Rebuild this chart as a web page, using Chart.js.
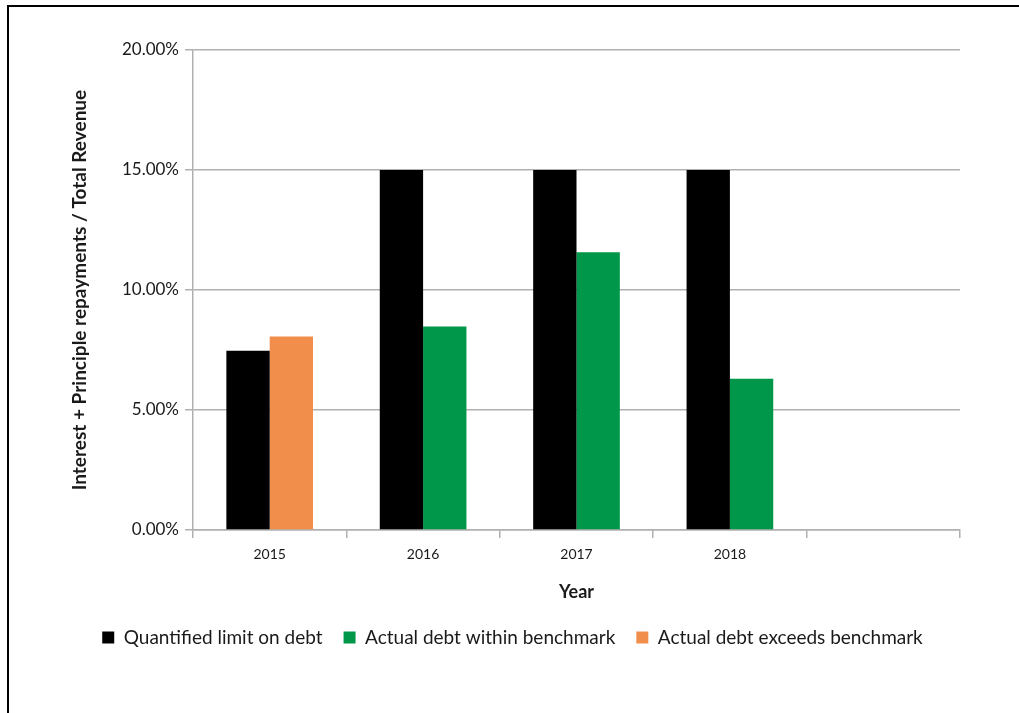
<!DOCTYPE html>
<html>
<head>
<meta charset="utf-8">
<script src="https://cdn.jsdelivr.net/npm/chart.js@4/dist/chart.umd.min.js"></script>
<style>
  html, body { margin: 0; padding: 0; background: #ffffff; }
  #frame {
    position: absolute; left: 7px; top: 5px; width: 1012px; height: 708px;
    border-left: 2px solid #000; border-top: 2px solid #000; box-sizing: border-box;
  }
  #wrap { position: absolute; left: 0; top: 0; width: 1019px; height: 713px; }
</style>
</head>
<body>
<div id="frame"></div>
<div id="wrap"><canvas id="chart" width="1019" height="713"></canvas></div>
<script>
// Debt service ratio by year
const years = ['2015', '2016', '2017', '2018', ''];
const quantifiedLimit = [7.47, 15.0, 15.0, 15.0, null];
const withinBenchmark = [null, 8.48, 11.57, 6.30, null];
const exceedsBenchmark = [8.06, null, null, null, null];
const yTicks = [0, 5, 10, 15, 20];

const FONT = 'Lato, "Noto Sans", sans-serif';
const TEXT = '#1a1a1a';
const GRID = '#b0b0b0';

new Chart(document.getElementById('chart'), {
  type: 'bar',
  data: {
    labels: years,
    datasets: [
      { label: 'Quantified limit on debt', data: quantifiedLimit, backgroundColor: '#000000' },
      { label: 'Actual debt within benchmark', data: withinBenchmark, backgroundColor: '#00974a' },
      { label: 'Actual debt exceeds benchmark', data: exceedsBenchmark, backgroundColor: '#f28e4c' }
    ]
  },
  options: {
    responsive: false,
    animation: false,
    skipNull: true,
    categoryPercentage: 0.565,
    barPercentage: 1.0,
    layout: { padding: { left: 6, right: 0, top: 50, bottom: 56 } },
    plugins: {
      tooltip: { enabled: false },
      legend: {
        position: 'bottom',
        labels: {
          font: { family: FONT, size: 19 },
          color: TEXT,
          boxWidth: 12,
          boxHeight: 12,
          padding: 21
        }
      }
    },
    scales: {
      x: {
        grid: { display: true, drawOnChartArea: false, offset: true, color: GRID, lineWidth: 1.5, tickLength: 8, tickColor: GRID },
        border: { display: true, color: GRID, width: 1.5 },
        ticks: { font: { family: FONT, size: 14 }, color: TEXT, padding: 8, maxRotation: 0 },
        title: { display: true, text: 'Year', font: { family: FONT, size: 18, weight: 'bold', lineHeight: 1.0 }, color: TEXT, padding: { top: 0, bottom: 6 } },
        afterFit: s => { s.height = 77; }
      },
      y: {
        min: 0, max: 20,
        afterBuildTicks: s => { s.ticks = yTicks.map(v => ({ value: v })); },
        grid: { color: GRID, lineWidth: 1.5, tickLength: 8, tickColor: GRID },
        border: { display: true, color: GRID, width: 1.5 },
        ticks: { font: { family: FONT, size: 17 }, color: TEXT, padding: 6, callback: v => v.toFixed(2) + '%' },
        title: { display: true, text: 'Interest + Principle repayments / Total Revenue', font: { family: FONT, size: 19, weight: 'bold' }, color: TEXT, padding: { top: 62, bottom: 0 } },
        afterFit: s => { s.width = 187; }
      },
      y2: {
        position: 'right',
        display: true,
        grid: { display: false },
        border: { display: false },
        ticks: { display: false },
        afterFit: s => { s.width = 59; }
      }
    }
  }
});
</script>
</body>
</html>
